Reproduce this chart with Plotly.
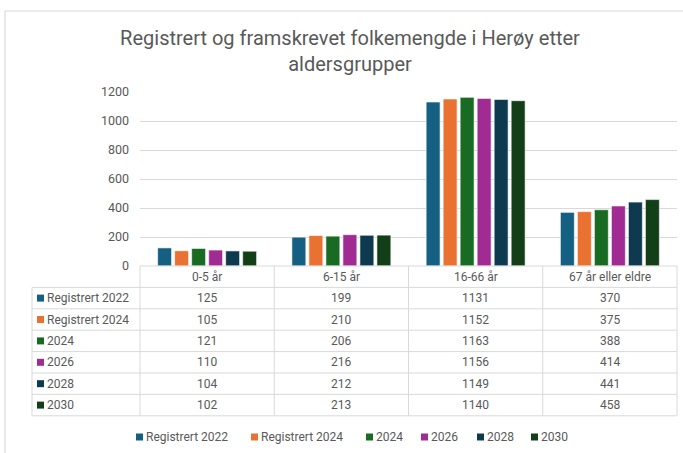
import plotly.graph_objects as go

# ---- data ----
categories = ["0-5 år", "6-15 år", "16-66 år", "67 år eller eldre"]
series_names = ["Registrert 2022", "Registrert 2024", "2024", "2026", "2028", "2030"]
reg_2022 = [125, 199, 1131, 370]
reg_2024 = [105, 210, 1152, 375]
proj_2024 = [121, 206, 1163, 388]
proj_2026 = [110, 216, 1156, 414]
proj_2028 = [104, 212, 1149, 441]
proj_2030 = [102, 213, 1140, 458]
y_ticks = [0, 200, 400, 600, 800, 1000, 1200]
title_text = "Registrert og framskrevet folkemengde i Herøy etter<br>aldersgrupper"

series_values = [reg_2022, reg_2024, proj_2024, proj_2026, proj_2028, proj_2030]
colors = ["#156082", "#E97132", "#196B24", "#A02B93", "#0E3A50", "#123F17"]

TEXT = "#595959"
GRID = "#D9D9D9"
FONT = "Roboto, Arial, sans-serif"
FS = 12

# ---- pixel layout ----
W, H = 683, 453
L, R, T, B = 140, 6, 92, 187
PW = W - L - R
PH = H - T - B
BASE = H - B          # pixel y of value 0
ROW_H = 21.4
TABLE_LEFT = 32
LEGEND_Y = 437
LEGEND_X = [136, 251, 366, 421, 477, 531]   # left edge of each legend swatch (px)


def xp(p):
    return (p - L) / PW


def yp(p):
    return (BASE - p) / PH


fig = go.Figure()
for name, vals, col in zip(series_names, series_values, colors):
    fig.add_trace(go.Bar(
        x=categories, y=vals, name=name,
        marker=dict(color=col, line=dict(color="white", width=0.6)),
        hoverinfo="skip", showlegend=False,
    ))

shapes = []
annotations = []

# chart frame
shapes.append(dict(
    type="path", xref="paper", yref="paper",
    path=f"M {xp(5)} {yp(H + 5)} L {xp(5)} {yp(11)} L {xp(W + 5)} {yp(11)}",
    line=dict(color=GRID, width=1.2),
))

n_rows = len(series_names)
table_right = L + PW
for i in range(n_rows + 2):
    y = BASE + i * ROW_H
    x0 = L if i == 0 else TABLE_LEFT
    shapes.append(dict(type="line", xref="paper", yref="paper",
                       x0=xp(x0), x1=xp(table_right), y0=yp(y), y1=yp(y),
                       line=dict(color=GRID, width=1)))
bottom = BASE + (n_rows + 1) * ROW_H
shapes.append(dict(type="line", xref="paper", yref="paper",
                   x0=xp(TABLE_LEFT), x1=xp(TABLE_LEFT), y0=yp(BASE + ROW_H), y1=yp(bottom),
                   line=dict(color=GRID, width=1)))
ncat = len(categories)
for k in range(ncat + 1):
    x = L + k * PW / ncat
    shapes.append(dict(type="line", xref="paper", yref="paper",
                       x0=xp(x), x1=xp(x), y0=yp(BASE), y1=yp(bottom),
                       line=dict(color=GRID, width=1)))

# header row
for c in categories:
    annotations.append(dict(x=c, xref="x", y=yp(BASE + ROW_H / 2), yref="paper",
                            text=c, showarrow=False, xanchor="center", yanchor="middle",
                            font=dict(size=FS, color=TEXT, family=FONT)))
# data rows
for r, (name, vals, col) in enumerate(zip(series_names, series_values, colors)):
    yc = BASE + ROW_H * (r + 1.5)
    shapes.append(dict(type="rect", xref="paper", yref="paper",
                       x0=xp(TABLE_LEFT + 5), x1=xp(TABLE_LEFT + 12),
                       y0=yp(yc - 3.5), y1=yp(yc + 3.5),
                       fillcolor=col, line=dict(width=0)))
    annotations.append(dict(x=xp(TABLE_LEFT + 13), xref="paper", y=yp(yc), yref="paper",
                            text=name, showarrow=False, xanchor="left", yanchor="middle",
                            font=dict(size=FS, color=TEXT, family=FONT)))
    for c, v in zip(categories, vals):
        annotations.append(dict(x=c, xref="x", y=yp(yc), yref="paper",
                                text=str(v), showarrow=False, xanchor="center", yanchor="middle",
                                font=dict(size=FS, color=TEXT, family=FONT)))

# legend (swatch + label)
for name, col, lx in zip(series_names, colors, LEGEND_X):
    shapes.append(dict(type="rect", xref="paper", yref="paper",
                       x0=xp(lx), x1=xp(lx + 7),
                       y0=yp(LEGEND_Y - 3.5), y1=yp(LEGEND_Y + 3.5),
                       fillcolor=col, line=dict(width=0)))
    annotations.append(dict(x=xp(lx + 8), xref="paper", y=yp(LEGEND_Y), yref="paper",
                            text=name, showarrow=False, xanchor="left", yanchor="middle",
                            font=dict(size=FS, color=TEXT, family=FONT)))

fig.update_layout(
    width=W, height=H,
    margin=dict(l=L, r=R, t=T, b=B, autoexpand=False),
    paper_bgcolor="white", plot_bgcolor="white",
    font=dict(family=FONT, color=TEXT, size=FS),
    title=dict(text=title_text, x=350 / W, xanchor="center", xref="container",
               y=1 - 45 / H, yanchor="top", yref="container",
               font=dict(size=20, color=TEXT, family=FONT)),
    barmode="group", bargap=0.24, bargroupgap=0.18,
    showlegend=False,
    xaxis=dict(showticklabels=False, ticks="", showgrid=False, zeroline=False,
               showline=False, fixedrange=True),
    yaxis=dict(range=[0, 1200], tickvals=y_ticks, showgrid=True, gridcolor=GRID,
               gridwidth=1, zeroline=False, showline=False, ticks="",
               ticklabelstandoff=10, tickfont=dict(size=12.5, color=TEXT, family=FONT),
               fixedrange=True),
    shapes=shapes, annotations=annotations,
)

fig.write_html("out.html", config={"displayModeBar": False},
               post_script="document.body.style.margin='0';")
